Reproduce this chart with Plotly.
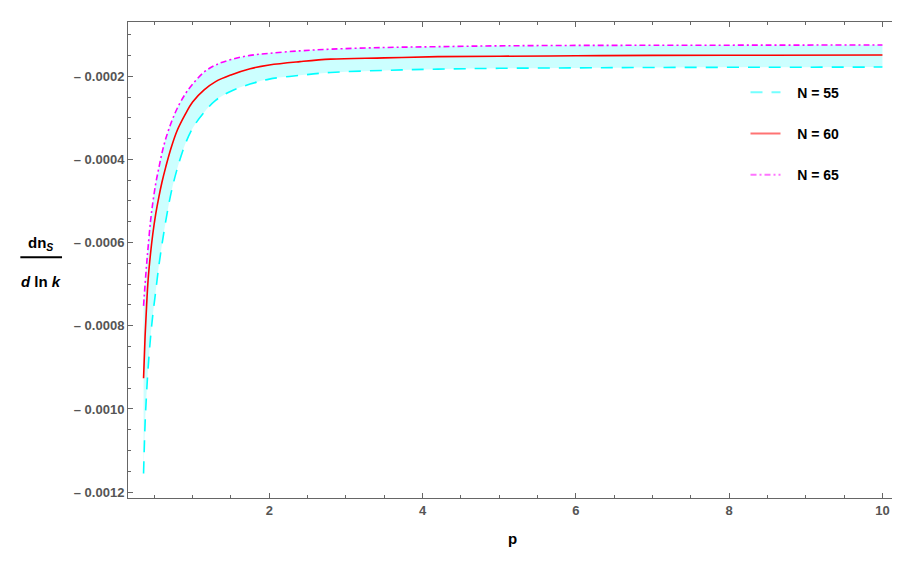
import plotly.graph_objects as go

# p values (shared grid) and dn_s/dlnk for each e-fold number
p = [0.36, 0.38, 0.40, 0.42, 0.45, 0.48, 0.52, 0.56, 0.60, 0.65, 0.72, 0.80, 0.90, 1.0,
     1.15, 1.3, 1.5, 1.75, 2.0, 2.4, 2.8, 3.5, 4.2, 5.0, 6.0, 7.0, 8.5, 10.0]

n55 = [-0.001155, -0.001035, -0.000960, -0.000900, -0.000830, -0.000775, -0.000715,
       -0.000655, -0.000605, -0.000548, -0.000480, -0.000422, -0.000365, -0.000325,
       -0.000287, -0.000258, -0.000236, -0.000219, -0.000207, -0.000198, -0.000191,
       -0.000186, -0.000183, -0.000181, -0.000180, -0.000179, -0.0001785, -0.000178]

n60 = [-0.000926, -0.000825, -0.000750, -0.000688, -0.000628, -0.000580, -0.000530,
       -0.000490, -0.000455, -0.000418, -0.000372, -0.000330, -0.000293, -0.000262,
       -0.000233, -0.000213, -0.000197, -0.000182, -0.000173, -0.000165, -0.000159,
       -0.000156, -0.000153, -0.000152, -0.000151, -0.000150, -0.0001495, -0.000149]

n65 = [-0.000752, -0.000700, -0.000652, -0.000610, -0.000550, -0.000505, -0.000457,
       -0.000420, -0.000385, -0.000350, -0.000312, -0.000277, -0.000244, -0.000219,
       -0.000190, -0.000173, -0.000160, -0.000150, -0.000145, -0.000139, -0.000135,
       -0.000131, -0.000129, -0.000127, -0.000126, -0.0001257, -0.0001253, -0.000125]

names = ["N = 55", "N = 60", "N = 65"]
yticks = [-0.0012, -0.0010, -0.0008, -0.0006, -0.0004, -0.0002]
yticktext = ["– 0.0012", "– 0.0010", "– 0.0008", "– 0.0006", "– 0.0004", "– 0.0002"]
xticks = [2, 4, 6, 8, 10]

CYAN = "#00ffff"
RED = "#ff0000"
MAGENTA = "#ff00ff"

fig = go.Figure()

# band between N=55 and N=65
fig.add_trace(go.Scatter(x=p, y=n55, mode="lines", line=dict(width=0, shape="spline"),
                         showlegend=False, hoverinfo="skip"))
fig.add_trace(go.Scatter(x=p, y=n65, mode="lines", line=dict(width=0, shape="spline"),
                         fill="tonexty", fillcolor="rgba(0,255,255,0.2)",
                         showlegend=False, hoverinfo="skip"))

styles = [
    (n55, CYAN, "12px,9px", "rgba(0,255,255,0.55)"),
    (n60, RED, "solid", "rgba(255,0,0,0.55)"),
    (n65, MAGENTA, "6px,3px,2px,3px", "rgba(255,0,255,0.55)"),
]
for (ys, col, dash, lcol), name in zip(styles, names):
    fig.add_trace(go.Scatter(x=p, y=ys, mode="lines", showlegend=False,
                             line=dict(color=col, width=1.6, dash=dash, shape="spline")))
    # legend entry (lighter, like the original)
    fig.add_trace(go.Scatter(x=[None], y=[None], mode="lines",
                             name="\u00a0\u00a0\u00a0" + name, legendgroup=name,
                             line=dict(color=lcol, width=2, dash=dash)))

axis_common = dict(
    showline=True, linecolor="#666666", linewidth=1, mirror="ticks",
    ticks="inside", ticklen=5, tickcolor="#666666", showgrid=False, zeroline=False,
    automargin=False,
    tickfont=dict(family="Liberation Sans", size=13, color="#555555", weight="bold"),
)

fig.update_xaxes(range=[0.157, 10.19], tickvals=xticks,
                 minor=dict(ticks="inside", ticklen=3, dtick=0.5, tick0=0,
                            tickcolor="#666666", showgrid=False),
                 title=dict(text="p", font=dict(family="Liberation Sans", size=15,
                                                color="black", weight="bold"),
                            standoff=16),
                 **axis_common)
fig.update_yaxes(range=[-0.001214, -0.0000697], tickvals=yticks, ticktext=yticktext,
                 minor=dict(ticks="inside", ticklen=3, dtick=0.00005, tick0=0,
                            tickcolor="#666666", showgrid=False),
                 **axis_common)

# y-axis label as a fraction
lab_font = dict(family="Liberation Sans", size=15, color="black", weight="bold")
fig.add_annotation(xref="paper", yref="paper", x=-0.114, y=0.535, xanchor="center",
                   text="dn<sub><i>S</i></sub>", showarrow=False, font=lab_font)
fig.add_annotation(xref="paper", yref="paper", x=-0.113, y=0.455, xanchor="center",
                   text="<i>d</i> ln <i>k</i>", showarrow=False, font=lab_font)
fig.add_shape(type="line", xref="paper", yref="paper", x0=-0.140, x1=-0.0858,
              y0=0.506, y1=0.506, line=dict(color="black", width=2))

# the page body has an 8px margin, so the figure is sized 892x555
fig.update_layout(
    width=892, height=555,
    margin=dict(l=120, r=3, t=14, b=65),
    paper_bgcolor="white", plot_bgcolor="white",
    legend=dict(x=0.803, y=0.885, xanchor="left", yanchor="top",
                bgcolor="rgba(0,0,0,0)", tracegroupgap=20, itemwidth=30,
                font=dict(family="Liberation Sans", size=14, color="black", weight="bold")),
)

fig.write_html("out.html")
